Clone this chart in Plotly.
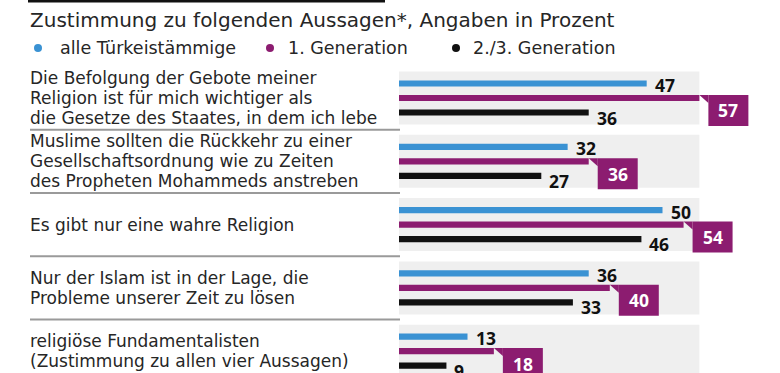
import plotly.graph_objects as go

categories = [
    "Die Befolgung der Gebote meiner<br>Religion ist für mich wichtiger als<br>die Gesetze des Staates, in dem ich lebe",
    "Muslime sollten die Rückkehr zu einer<br>Gesellschaftsordnung wie zu Zeiten<br>des Propheten Mohammeds anstreben",
    "Es gibt nur eine wahre Religion",
    "Nur der Islam ist in der Lage, die<br>Probleme unserer Zeit zu lösen",
    "religiöse Fundamentalisten<br>(Zustimmung zu allen vier Aussagen)",
]
series_names = ["alle Türkeistämmige", "1. Generation", "2./3. Generation"]
alle = [47, 32, 50, 36, 13]
gen1 = [57, 36, 54, 40, 18]
gen23 = [36, 27, 46, 33, 9]
title_text = "Zustimmung zu folgenden Aussagen*, Angaben in Prozent"

W, H = 780, 373
FONT = "DejaVu Sans"
NUMFONT = "Open Sans"
BLUE = "#3a92d3"
PURPLE = "#8c1c70"
BLACK = "#111111"
PANEL = "#efefef"
TXT = "#262626"

# pixel geometry
x0_px = 399.0
px_per_unit = 5.27
g0_px = 98.0
g_step = 63.3
xr = [-x0_px / px_per_unit, (W - x0_px) / px_per_unit]
yr = [(H - g0_px) / g_step, -g0_px / g_step]

def py(px):  # pixel distance -> y units
    return px / g_step

def pxu(px):  # pixel distance -> x units
    return px / px_per_unit

offsets = [-py(14.5), 0.0, py(14.5)]
colors = [BLUE, PURPLE, BLACK]
allseries = [alle, gen1, gen23]
n = len(categories)
vmax = max(max(s) for s in allseries)

fig = go.Figure()
shapes = []
annotations = []

# background panels
for i in range(n):
    shapes.append(dict(type="rect", xref="x", yref="y", x0=0, x1=vmax,
                       y0=i - py(26.5), y1=i + py(26.5), fillcolor=PANEL,
                       line=dict(width=0), layer="below"))

for s, (vals, col, name) in enumerate(zip(allseries, colors, series_names)):
    fig.add_trace(go.Bar(
        orientation="h", x=vals, y=[i + offsets[s] for i in range(n)],
        width=py(6.2), marker=dict(color=col, line=dict(width=0)),
        name=name, showlegend=False, hoverinfo="x"))

for i in range(n):
    # blue label
    annotations.append(dict(x=alle[i], y=i + offsets[0] + py(1.5), xref="x", yref="y",
                            text="<b>%d</b>" % alle[i], showarrow=False, xanchor="left",
                            yanchor="middle", xshift=6,
                            font=dict(family=NUMFONT, size=17.5, color=BLACK)))
    # black label
    annotations.append(dict(x=gen23[i], y=i + offsets[2] + py(5), xref="x", yref="y",
                            text="<b>%d</b>" % gen23[i], showarrow=False, xanchor="left",
                            yanchor="middle", xshift=6,
                            font=dict(family=NUMFONT, size=17.5, color=BLACK)))
    # purple flag box
    v = gen1[i]
    top = i + offsets[1] - py(3.1)
    gap = pxu(9)
    bw = pxu(40)
    bh = py(31)
    shapes.append(dict(type="rect", xref="x", yref="y", x0=v + gap, x1=v + gap + bw,
                       y0=top, y1=top + bh, fillcolor=PURPLE, line=dict(width=0)))
    shapes.append(dict(type="path", xref="x", yref="y",
                       path="M %f,%f L %f,%f L %f,%f Z" % (v, top, v + gap, top, v + gap, top + py(8)),
                       fillcolor=PURPLE, line=dict(width=0)))
    annotations.append(dict(x=v + gap + bw / 2, y=top + bh / 2, xref="x", yref="y",
                            text="<b>%d</b>" % v, showarrow=False, xanchor="center",
                            yanchor="middle",
                            font=dict(family=NUMFONT, size=17.5, color="white")))
    # category label lines
    lines = categories[i].split("<br>")
    nl = len(lines)
    for k, line in enumerate(lines):
        annotations.append(dict(x=30 / W, y=i + py((k - (nl - 1) / 2) * 20), xref="paper", yref="y",
                                text=line, showarrow=False, xanchor="left", yanchor="middle",
                                xshift=-2,
                                font=dict(family=FONT, size=17, color=TXT)))

# separators
for i in range(n - 1):
    shapes.append(dict(type="line", xref="paper", yref="y", x0=30 / W, x1=400 / W,
                       y0=i + 0.5, y1=i + 0.5, line=dict(color="#9a9a9a", width=2)))

# top rule
shapes.append(dict(type="line", xref="paper", yref="paper", x0=28 / W, x1=385 / W,
                   y0=1 - 1 / H, y1=1 - 1 / H, line=dict(color="#111111", width=3)))

# title
annotations.append(dict(x=30 / W, y=1 - 20 / H, xref="paper", yref="paper", text=title_text,
                        showarrow=False, xanchor="left", yanchor="middle", xshift=-2,
                        font=dict(family=FONT, size=20, color=TXT)))

# legend
leg_dot_x = [38, 270, 456]
leg_txt_x = [60, 288, 473]
for col, name, dx, tx in zip(colors, series_names, leg_dot_x, leg_txt_x):
    shapes.append(dict(type="circle", xref="paper", yref="paper",
                       xsizemode="pixel", ysizemode="pixel",
                       xanchor=dx / W, yanchor=1 - 48 / H,
                       x0=-4, x1=4, y0=-4, y1=4, fillcolor=col, line=dict(width=0)))
    annotations.append(dict(x=tx / W, y=1 - 48 / H, xref="paper", yref="paper", text=name,
                            showarrow=False, xanchor="left", yanchor="middle", xshift=-2,
                            font=dict(family=FONT, size=17.5, color=TXT)))

fig.update_layout(
    width=W, height=H, margin=dict(l=0, r=0, t=0, b=0),
    paper_bgcolor="white", plot_bgcolor="white",
    barmode="overlay", showlegend=False,
    xaxis=dict(range=xr, visible=False, fixedrange=True),
    yaxis=dict(range=yr, visible=False, fixedrange=True),
    shapes=shapes, annotations=annotations,
)

fig.write_html("out.html", config={"displayModeBar": False},
               post_script="document.body.style.margin='0';document.body.style.overflow='hidden';")
